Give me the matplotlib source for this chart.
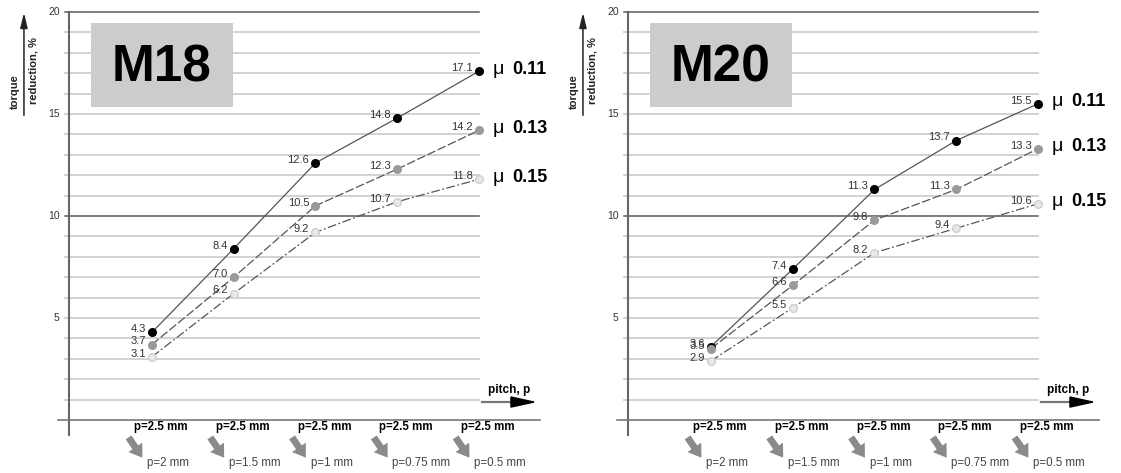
import matplotlib.pyplot as plt
from matplotlib.patches import Rectangle

plt.rcParams['font.family'] = ['Liberation Sans', 'DejaVu Sans']

# pitch steps along the x axis
pitch_top = ['p=2.5 mm', 'p=2.5 mm', 'p=2.5 mm', 'p=2.5 mm', 'p=2.5 mm']
pitch_bottom = ['p=2 mm', 'p=1.5 mm', 'p=1 mm', 'p=0.75 mm', 'p=0.5 mm']
friction = ['0.11', '0.13', '0.15']
y_ticks = [5, 10, 15, 20]

# torque reduction, % (one list per friction coefficient)
m18_011 = [4.3, 8.4, 12.6, 14.8, 17.1]
m18_013 = [3.7, 7.0, 10.5, 12.3, 14.2]
m18_015 = [3.1, 6.2, 9.2, 10.7, 11.8]

m20_011 = [3.6, 7.4, 11.3, 13.7, 15.5]
m20_013 = [3.5, 6.6, 9.8, 11.3, 13.3]
m20_015 = [2.9, 5.5, 8.2, 9.4, 10.6]

styles = [
    dict(ls='-', mfc='black', mec='black'),
    dict(ls=(0, (7, 2)), mfc='#9a9a9a', mec='#9a9a9a'),
    dict(ls=(0, (7, 2, 1.5, 2)), mfc='#e8e8e8', mec='#cfcfcf'),
]

XMIN, XMAX = -1.015, 4.746


def draw_panel(ax, title, series):
    ax.set_xlim(XMIN, XMAX)
    ax.set_ylim(0, 20)
    ax.axis('off')

    # title box
    ax.add_patch(Rectangle((-0.746, 15.34), 1.736, 4.12, fc='#cccccc', ec='none', zorder=0))
    ax.text(0.12, 17.25, title, fontsize=37, fontweight='bold', ha='center', va='center', zorder=3)

    # horizontal grid
    for v in range(1, 21):
        dark = v in (10, 20)
        ax.plot([-1.06, 4.0], [v, v], color='#5a5a5a' if dark else '#cfcfcf',
                lw=1.1 if dark else 1.3, zorder=1, clip_on=False)

    # axes lines
    ax.plot([XMIN, XMIN], [-0.75, 20], color='#666666', lw=1.5, clip_on=False, zorder=2)
    ax.plot([-1.15, XMAX], [0, 0], color='#777777', lw=1.2, clip_on=False, zorder=2)

    for v in y_ticks:
        ax.text(-1.13, v, str(v), ha='right', va='center', fontsize=7.5, color='#333333')

    # y axis caption with arrow
    ax.annotate('', xy=(-1.566, 20.1), xytext=(-1.566, 14.8),
                arrowprops=dict(arrowstyle='-|>,head_length=0.9,head_width=0.22', color='#222222', lw=1.1),
                annotation_clip=False)
    ax.text(-1.68, 16.1, 'torque', rotation=90, fontsize=8, fontweight='bold',
            ha='center', va='center', color='#222222')
    ax.text(-1.45, 17.15, 'reduction, %', rotation=90, fontsize=8, fontweight='bold',
            ha='center', va='center', color='#222222')

    # x axis caption with arrow
    ax.text(4.37, 1.47, 'pitch, p', fontsize=8.5, fontweight='bold', ha='center', va='center')
    ax.plot([4.04, 4.5], [0.88, 0.88], color='#777777', lw=1.6, clip_on=False)
    ax.annotate('', xy=(XMAX, 0.88), xytext=(4.45, 0.88),
                arrowprops=dict(arrowstyle='-|>,head_length=1.6,head_width=0.35', color='black', lw=1.2),
                annotation_clip=False)

    xs = list(range(len(pitch_top)))
    for i in xs:
        ax.text(i + 0.11, -0.34, pitch_top[i], fontsize=8.3, fontweight='bold', ha='center', va='center')
        ax.text(i - 0.06, -2.1, pitch_bottom[i], fontsize=8.3, ha='left', va='center', color='#444444')
        ax.annotate('', xy=(i - 0.098, -1.96), xytext=(i - 0.306, -0.74),
                    arrowprops=dict(arrowstyle='simple,head_length=0.45,head_width=0.6,tail_width=0.25',
                                    mutation_scale=20, fc='#8a8a8a', ec='none'),
                    annotation_clip=False)

    for vals, st, mu in zip(series, styles, friction):
        ax.plot(xs, vals, color='#555555', lw=0.9, ls=st['ls'], zorder=4)
        ax.plot(xs, vals, ls='none', marker='o', ms=5.5, mfc=st['mfc'], mec=st['mec'], zorder=5)
        for x, v in zip(xs, vals):
            ax.annotate(f'{v:.1f}', (x, v), xytext=(-4.5, 2.2), textcoords='offset points',
                        ha='right', va='center', fontsize=8, color='#333333', zorder=6)
        ax.annotate('\u03bc', (xs[-1], vals[-1]), xytext=(10, 1.5), textcoords='offset points',
                    ha='left', va='center', fontsize=14, annotation_clip=False)
        ax.annotate(mu, (xs[-1], vals[-1]), xytext=(24, 1.5), textcoords='offset points',
                    ha='left', va='center', fontsize=13, fontweight='bold', annotation_clip=False)


fig = plt.figure(figsize=(11.21, 4.73), dpi=100)
W, H = 1121, 473
ax1 = fig.add_axes([69 / W, 53 / H, 471 / W, 408 / H])
ax2 = fig.add_axes([628 / W, 53 / H, 471 / W, 408 / H])

draw_panel(ax1, 'M18', [m18_011, m18_013, m18_015])
draw_panel(ax2, 'M20', [m20_011, m20_013, m20_015])

fig.savefig('out.png', dpi=100)
